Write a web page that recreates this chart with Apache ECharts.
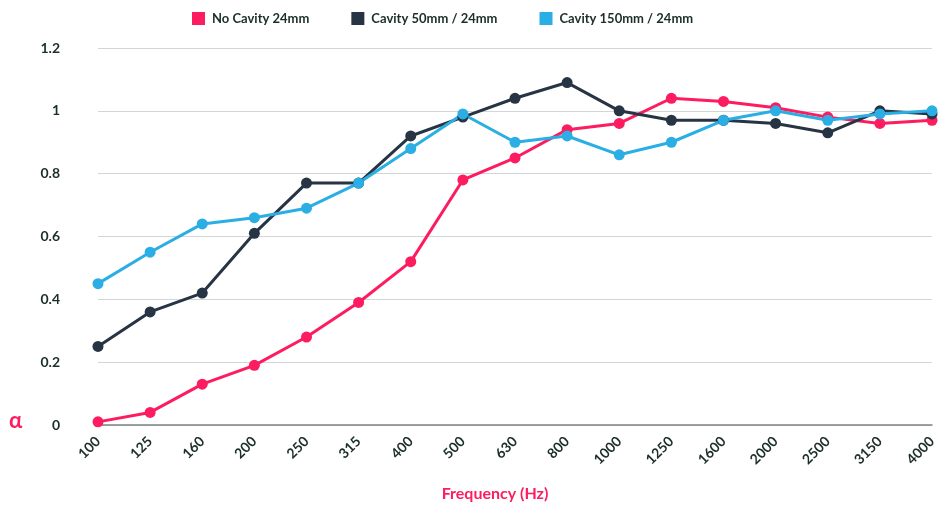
<!DOCTYPE html>
<html>
<head>
<meta charset="utf-8">
<script src="https://cdn.jsdelivr.net/npm/echarts@6/dist/echarts.min.js"></script>
<style>
  html, body { margin: 0; padding: 0; background: #fff; }
  #chart { width: 950px; height: 508px; }
</style>
</head>
<body>
<div id="chart"></div>
<script>
const frequencies = ["100", "125", "160", "200", "250", "315", "400", "500", "630", "800",
  "1000", "1250", "1600", "2000", "2500", "3150", "4000"];
const noCavity = [0.01, 0.04, 0.13, 0.19, 0.28, 0.39, 0.52, 0.78, 0.85, 0.94,
  0.96, 1.04, 1.03, 1.01, 0.98, 0.96, 0.97];
const cavity50 = [0.25, 0.36, 0.42, 0.61, 0.77, 0.77, 0.92, 0.98, 1.04, 1.09,
  1.00, 0.97, 0.97, 0.96, 0.93, 1.00, 0.99];
const cavity150 = [0.45, 0.55, 0.64, 0.66, 0.69, 0.77, 0.88, 0.99, 0.90, 0.92,
  0.86, 0.90, 0.97, 1.00, 0.97, 0.99, 1.00];

const seriesList = [
  { name: "No Cavity 24mm", data: noCavity, color: "#fc1c5f" },
  { name: "Cavity 50mm / 24mm", data: cavity50, color: "#273444" },
  { name: "Cavity 150mm / 24mm", data: cavity150, color: "#2aaee3" }
];

const textColor = "#1c2e2a";
const font = "Lato";

const chart = echarts.init(document.getElementById("chart"));
chart.setOption({
  animation: false,
  textStyle: { fontFamily: font },
  legend: {
    left: 187,
    top: 7,
    icon: "rect",
    itemWidth: 13,
    itemHeight: 13,
    itemGap: 42,
    textStyle: { color: textColor, fontSize: 13, fontWeight: "bold", fontFamily: font, padding: [0, 0, 0, 2] },
    data: seriesList.map(s => s.name)
  },
  grid: { left: 98, right: 18, top: 48, bottom: 83, outerBoundsMode: "none", containLabel: false },
  xAxis: {
    type: "category",
    data: frequencies,
    boundaryGap: false,
    name: "Frequency (Hz)",
    nameLocation: "middle",
    nameGap: 61,
    nameTextStyle: { color: "#fc1c5f", fontSize: 16, fontWeight: "bold", fontFamily: font, padding: [0, 40, 0, 0] },
    axisLine: { lineStyle: { color: "#7f8584", width: 1.5 } },
    axisTick: { show: false },
    axisLabel: { rotate: 45, color: textColor, fontSize: 14, fontWeight: "bold", margin: 14, fontFamily: font },
    splitLine: { show: false }
  },
  yAxis: {
    type: "value",
    min: 0,
    max: 1.2,
    interval: 0.2,
    axisLine: { show: false },
    axisTick: { show: false },
    axisLabel: { color: textColor, fontSize: 14, fontWeight: "bold", margin: 38, fontFamily: font },
    splitLine: { lineStyle: { color: "#d3d6d6", width: 1 } }
  },
  graphic: [{
    type: "text",
    left: 9,
    top: 410,
    style: { text: "α", fill: "#fc1c5f", font: "bold 22px Lato" }
  }],
  series: seriesList.map(s => ({
    name: s.name,
    type: "line",
    data: s.data,
    color: s.color,
    symbol: "circle",
    symbolSize: 11,
    lineStyle: { width: 3, color: s.color },
    itemStyle: { color: s.color }
  }))
});
</script>
</body>
</html>
